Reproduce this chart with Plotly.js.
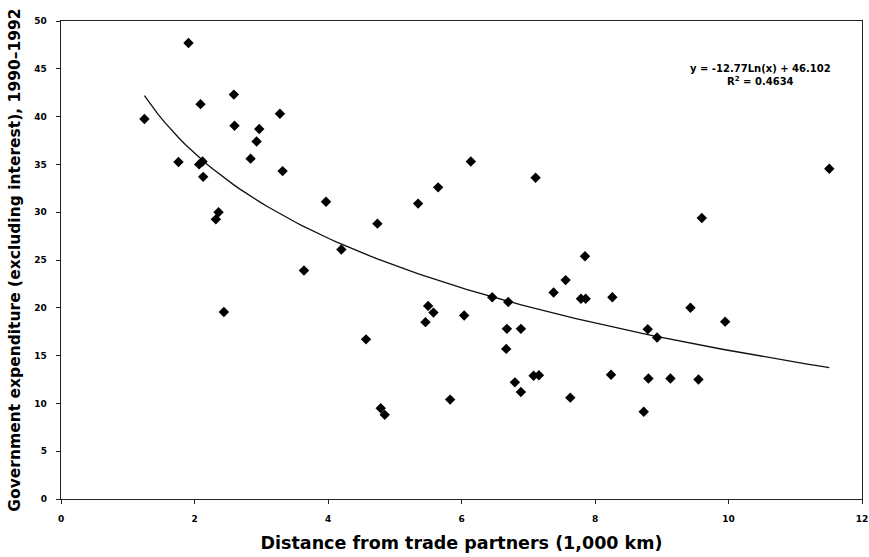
<!DOCTYPE html>
<html>
<head>
<meta charset="utf-8">
<script src="https://cdn.plot.ly/plotly-3.0.1.min.js"></script>
<style>html,body{margin:0;padding:0;background:#fff;}#chart{width:869px;height:557px;}</style>
</head>
<body>
<div id="chart"></div>
<script>
// Distance from trade partners (1,000 km)
const distance = [1.91,1.25,2.59,2.09,3.28,2.60,2.97,2.93,2.84,1.76,2.07,2.12,2.13,3.32,3.97,2.36,2.32,3.64,2.44,4.20,
  4.74,5.35,5.65,6.14,7.11,7.56,4.57,4.79,4.85,5.50,5.58,5.46,6.04,5.83,6.46,6.70,6.68,6.89,6.67,7.08,
  7.16,6.80,6.89,7.38,7.63,11.51,9.60,7.85,7.79,7.86,8.26,9.43,9.95,8.79,8.93,8.24,8.80,9.13,9.55,8.73];
// Government expenditure (excluding interest), 1990-1992
const expenditure = [47.7,39.75,42.3,41.3,40.3,39.05,38.7,37.4,35.6,35.25,35.0,35.3,33.7,34.3,31.1,30.0,29.25,23.9,19.56,26.1,
  28.8,30.9,32.6,35.3,33.6,22.9,16.7,9.5,8.8,20.2,19.5,18.5,19.2,10.4,21.1,20.6,17.8,17.8,15.7,12.9,
  12.95,12.2,11.2,21.6,10.6,34.55,29.4,25.4,20.95,20.95,21.1,20.0,18.55,17.75,16.9,13.0,12.6,12.6,12.5,9.13];
const xTicks = [0,2,4,6,8,10,12];
const yTicks = [0,5,10,15,20,25,30,35,40,45,50];
const equationLines = ["y = -12.77Ln(x) + 46.102", "R<sup>2</sup> = 0.4634"];

// Logarithmic least-squares fit of the plotted points
const lx = distance.map(Math.log);
const n = lx.length;
const mx = lx.reduce((a,b)=>a+b,0)/n;
const my = expenditure.reduce((a,b)=>a+b,0)/n;
let sxy = 0, sxx = 0;
for (let i=0;i<n;i++){ sxy += (lx[i]-mx)*(expenditure[i]-my); sxx += (lx[i]-mx)*(lx[i]-mx); }
const slope = sxy/sxx, intercept = my - slope*mx;
const xmin = Math.min(...distance), xmax = Math.max(...distance);
const fitX = [], fitY = [];
for (let k=0;k<=100;k++){ const x = xmin + (xmax-xmin)*k/100; fitX.push(x); fitY.push(intercept + slope*Math.log(x)); }

const font = "'DejaVu Sans', 'Liberation Sans', sans-serif";
const traces = [
  {x: fitX, y: fitY, mode: 'lines', line: {color: '#111', width: 1.3}, hoverinfo: 'skip', showlegend: false},
  {x: distance, y: expenditure, mode: 'markers', marker: {symbol: 'diamond', size: 8, color: '#000'}, showlegend: false}
];
const axisCommon = {
  showline: true, linecolor: '#222', linewidth: 1.3, mirror: true,
  showgrid: false, zeroline: false, ticks: 'outside', ticklen: 4, tickcolor: '#222', tickwidth: 1,
  tickfont: {family: font, size: 9, color: '#000', weight: 'bold'}
};
const layout = {
  width: 869, height: 557,
  margin: {l: 61, r: 7, t: 21, b: 58},
  paper_bgcolor: '#fff', plot_bgcolor: '#fff',
  xaxis: Object.assign({}, axisCommon, {range: [0, 12], tickvals: xTicks, ticklabelstandoff: 7,
    title: {text: 'Distance from trade partners (1,000 km)', font: {family: font, size: 17.5, color: '#000', weight: 'bold'}, standoff: 13}}),
  yaxis: Object.assign({}, axisCommon, {range: [0, 50], tickvals: yTicks, ticklabelstandoff: 7,
    title: {text: 'Government expenditure (excluding interest), 1990–1992', font: {family: font, size: 15.5, color: '#000', weight: 'bold'}, standoff: 10}}),
  annotations: [{
    xref: 'paper', yref: 'paper', x: 0.873, y: 0.888, xanchor: 'center', yanchor: 'middle',
    text: equationLines.join('<br>'), showarrow: false, align: 'center',
    font: {family: font, size: 10, color: '#000', weight: 'bold'}
  }]
};
Plotly.newPlot('chart', traces, layout, {displayModeBar: false, staticPlot: true});
</script>
</body>
</html>
